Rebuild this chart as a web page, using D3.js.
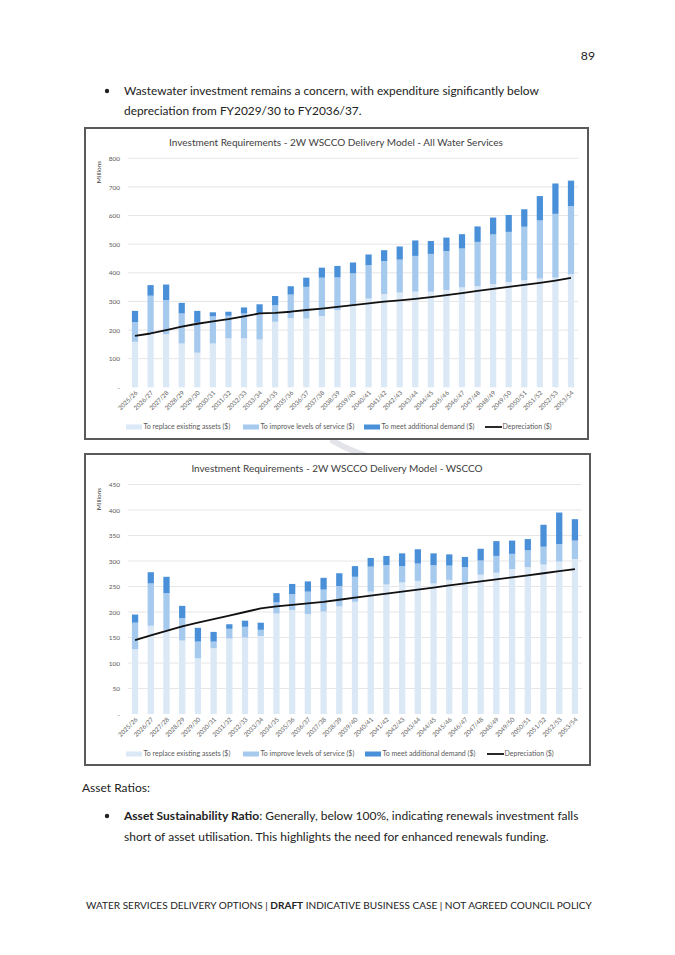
<!DOCTYPE html>
<html><head><meta charset="utf-8">
<script src="https://cdn.jsdelivr.net/npm/d3@7"></script>
<style>body{margin:0;background:#fff;} svg{display:block;}</style>
</head><body>
<svg id="page" width="675" height="955"></svg>
<script>
// ---------- DATA ----------
const categories = ["2025/26","2026/27","2027/28","2028/29","2029/30","2030/31","2031/32","2032/33","2033/34","2034/35",
  "2035/36","2036/37","2037/38","2038/39","2039/40","2040/41","2041/42","2042/43","2043/44","2044/45",
  "2045/46","2046/47","2047/48","2048/49","2049/50","2050/51","2051/52","2052/53","2053/54"];

// All Water Services ($ millions)
const allReplace = [159,188,185,153,121,153,171,171,167,229,242,240,249,270,287,310,326,331,334,334,340,349,353,360,368,374,380,383,395];
const allImprove = [69,132,120,105,105,95,79,87,93,58,82,111,134,114,111,117,115,115,125,132,136,136,155,174,175,187,203,223,238];
const allDemand  = [39,37,54,37,41,14,14,21,30,32,29,32,35,40,38,37,38,46,54,45,47,50,54,59,59,61,85,106,89];
const allDep     = [180,188,200,212,222,230,238,248,258,260,264,270,275,281,287,293,299,304,309,315,322,329,337,344,351,358,365,373,382];
const allTicks   = [0,100,200,300,400,500,600,700,800];

// WSCCO ($ millions)
const wsReplace = [127,173,165,144,109,129,148,150,153,197,204,196,201,211,220,240,254,258,261,256,263,258,273,277,284,288,293,299,304];
const wsImprove = [52,83,72,44,33,13,19,21,12,22,31,44,43,40,49,49,38,32,34,36,28,30,28,33,30,33,35,34,36];
const wsDemand  = [16,22,32,24,27,19,9,12,14,18,20,20,23,25,21,17,18,25,28,23,22,20,23,29,26,22,43,62,42];
const wsDep     = [145,154,163,172,179,186,193,200,207,211,214,217,220,224,228,232,236,240,244,248,252,256,260,264,268,272,276,280,284];
const wsTicks   = [0,50,100,150,200,250,300,350,400,450];

const seriesNames = ["To replace existing assets ($)","To improve levels of service ($)","To meet additional demand ($)","Depreciation ($)"];
const colors = ["#dbe8f6","#a6c9ee","#4a90d9"];

// ---------- PAGE ----------
const svg = d3.select("#page");
svg.append("rect").attr("width",675).attr("height",955).attr("fill","#fff");
const bodyFont = "Lato, 'Open Sans', sans-serif";
const chartFont = "Lato, 'Open Sans', sans-serif";

svg.append("text").attr("x",595).attr("y",60).attr("text-anchor","end")
  .attr("font-family",bodyFont).attr("font-size",12.2).attr("fill","#222").text("89");

function bullet(x,y){ svg.append("circle").attr("cx",x).attr("cy",y).attr("r",2.2).attr("fill","#222"); }
function line(x,y,parts,size){
  const t = svg.append("text").attr("x",x).attr("y",y).attr("font-family",bodyFont).attr("font-size",size).attr("fill","#222");
  parts.forEach(p=>{ t.append("tspan").attr("font-weight",p[1]?"bold":"normal").text(p[0]); });
  return t;
}
bullet(107,91);
line(124,95,[["Wastewater investment remains a concern, with expenditure significantly below"]],11.9);
line(124,115,[["depreciation from FY2029/30 to FY2036/37."]],11.9);

line(82,792,[["Asset Ratios:"]],12);
bullet(107,816);
line(124,820,[["Asset Sustainability Ratio",true],[": Generally, below 100%, indicating renewals investment falls"]],12);
line(124,841,[["short of asset utilisation. This highlights the need for enhanced renewals funding."]],12);

line(86,909,[["WATER SERVICES DELIVERY OPTIONS | "],["DRAFT",true],[" INDICATIVE BUSINESS CASE | NOT AGREED COUNCIL POLICY"]],10.05);

// faint watermark fragment between charts
svg.append("path").attr("d","M333,441 Q352,452 374,458").attr("fill","none")
  .attr("stroke","#e3e3ea").attr("stroke-width",6).attr("stroke-linecap","round");

// ---------- CHART ----------
function drawChart(cfg){
  const g = svg.append("g");
  g.append("rect").attr("x",cfg.frame[0]).attr("y",cfg.frame[1]).attr("width",cfg.frame[2]).attr("height",cfg.frame[3])
    .attr("fill","#fff").attr("stroke","#5a5a5a").attr("stroke-width",2);

  const x = d3.scaleBand().domain(categories).range(cfg.xr).paddingInner(0.6).paddingOuter(0.25);
  const y = d3.scaleLinear().domain([0,d3.max(cfg.ticks)]).range(cfg.yr);

  // gridlines
  g.append("g").selectAll("line").data(cfg.ticks.filter(d=>d>0)).join("line")
    .attr("x1",cfg.xr[0]).attr("x2",cfg.xr[1]).attr("y1",d=>y(d)).attr("y2",d=>y(d))
    .attr("stroke","#e6e6e6").attr("stroke-width",1);

  // y axis labels
  const ya = g.append("g").attr("transform",`translate(${cfg.xr[0]-8},0)`)
    .call(d3.axisLeft(y).tickValues(cfg.ticks).tickSize(0).tickPadding(0).tickFormat(d=>d===0?"-":d));
  ya.select(".domain").remove();
  ya.selectAll("text").attr("font-family",chartFont).attr("font-size",6.5).attr("fill","#595959");

  g.append("text").attr("transform",`translate(${cfg.frame[0]+16},${cfg.millionsY}) rotate(-90)`)
    .attr("text-anchor","middle").attr("font-family",chartFont).attr("font-size",6.5).attr("fill","#404040").text("Millions");

  // stacked bars
  const rows = categories.map((c,i)=>({cat:c, r:cfg.replace[i], i2:cfg.improve[i], d:cfg.demand[i]}));
  const stack = d3.stack().keys(["r","i2","d"])(rows);
  g.append("g").selectAll("g").data(stack).join("g").attr("fill",(d,k)=>colors[k])
    .selectAll("rect").data(d=>d).join("rect")
    .attr("x",d=>x(d.data.cat)).attr("width",x.bandwidth())
    .attr("y",d=>y(d[1])).attr("height",d=>y(d[0])-y(d[1]));

  // depreciation line
  g.append("path").datum(cfg.dep).attr("fill","none").attr("stroke","#111").attr("stroke-width",1.8)
    .attr("stroke-linejoin","round")
    .attr("d",d3.line().x((d,i)=>x(categories[i])+x.bandwidth()/2).y(d=>y(d)));

  // x axis labels
  const xa = g.append("g").attr("transform",`translate(0,${cfg.yr[0]})`)
    .call(d3.axisBottom(x).tickSize(0).tickPadding(0));
  xa.select(".domain").remove();
  xa.selectAll("text").attr("font-family",chartFont).attr("font-size",6.2).attr("fill","#595959")
    .attr("text-anchor","end").attr("dy",0).attr("y",0)
    .attr("transform","translate(3,6) rotate(-45)");

  // title
  g.append("text").attr("x",cfg.titleX).attr("y",cfg.titleY).attr("text-anchor","middle")
    .attr("font-family",chartFont).attr("font-size",10).attr("fill","#404040").text(cfg.title);

  // legend
  const ly = cfg.legendY;
  const lg = g.append("g").attr("font-family",chartFont).attr("font-size",7).attr("fill","#595959");
  cfg.legendX.forEach((lx,k)=>{
    if(k<3){
      lg.append("rect").attr("x",lx).attr("y",ly-2.5).attr("width",16).attr("height",5).attr("fill",colors[k]);
    } else {
      lg.append("line").attr("x1",lx).attr("x2",lx+17).attr("y1",ly).attr("y2",ly).attr("stroke","#111").attr("stroke-width",1.8);
    }
    lg.append("text").attr("x",lx+17.5).attr("y",ly+2.4).text(seriesNames[k]);
  });
}

drawChart({
  frame:[85,128,503,311], xr:[128,578], yr:[387.3,158.3], ticks:allTicks,
  replace:allReplace, improve:allImprove, demand:allDemand, dep:allDep,
  title:"Investment Requirements - 2W WSCCO Delivery Model - All Water Services", titleX:336, titleY:146,
  millionsY:172, legendY:427, legendX:[126,243,364,485]
});
drawChart({
  frame:[85,454,505,311], xr:[128,582], yr:[714,484.5], ticks:wsTicks,
  replace:wsReplace, improve:wsImprove, demand:wsDemand, dep:wsDep,
  title:"Investment Requirements - 2W WSCCO Delivery Model - WSCCO", titleX:337, titleY:472,
  millionsY:499, legendY:754, legendX:[126,243,365,487]
});
</script>
</body></html>
